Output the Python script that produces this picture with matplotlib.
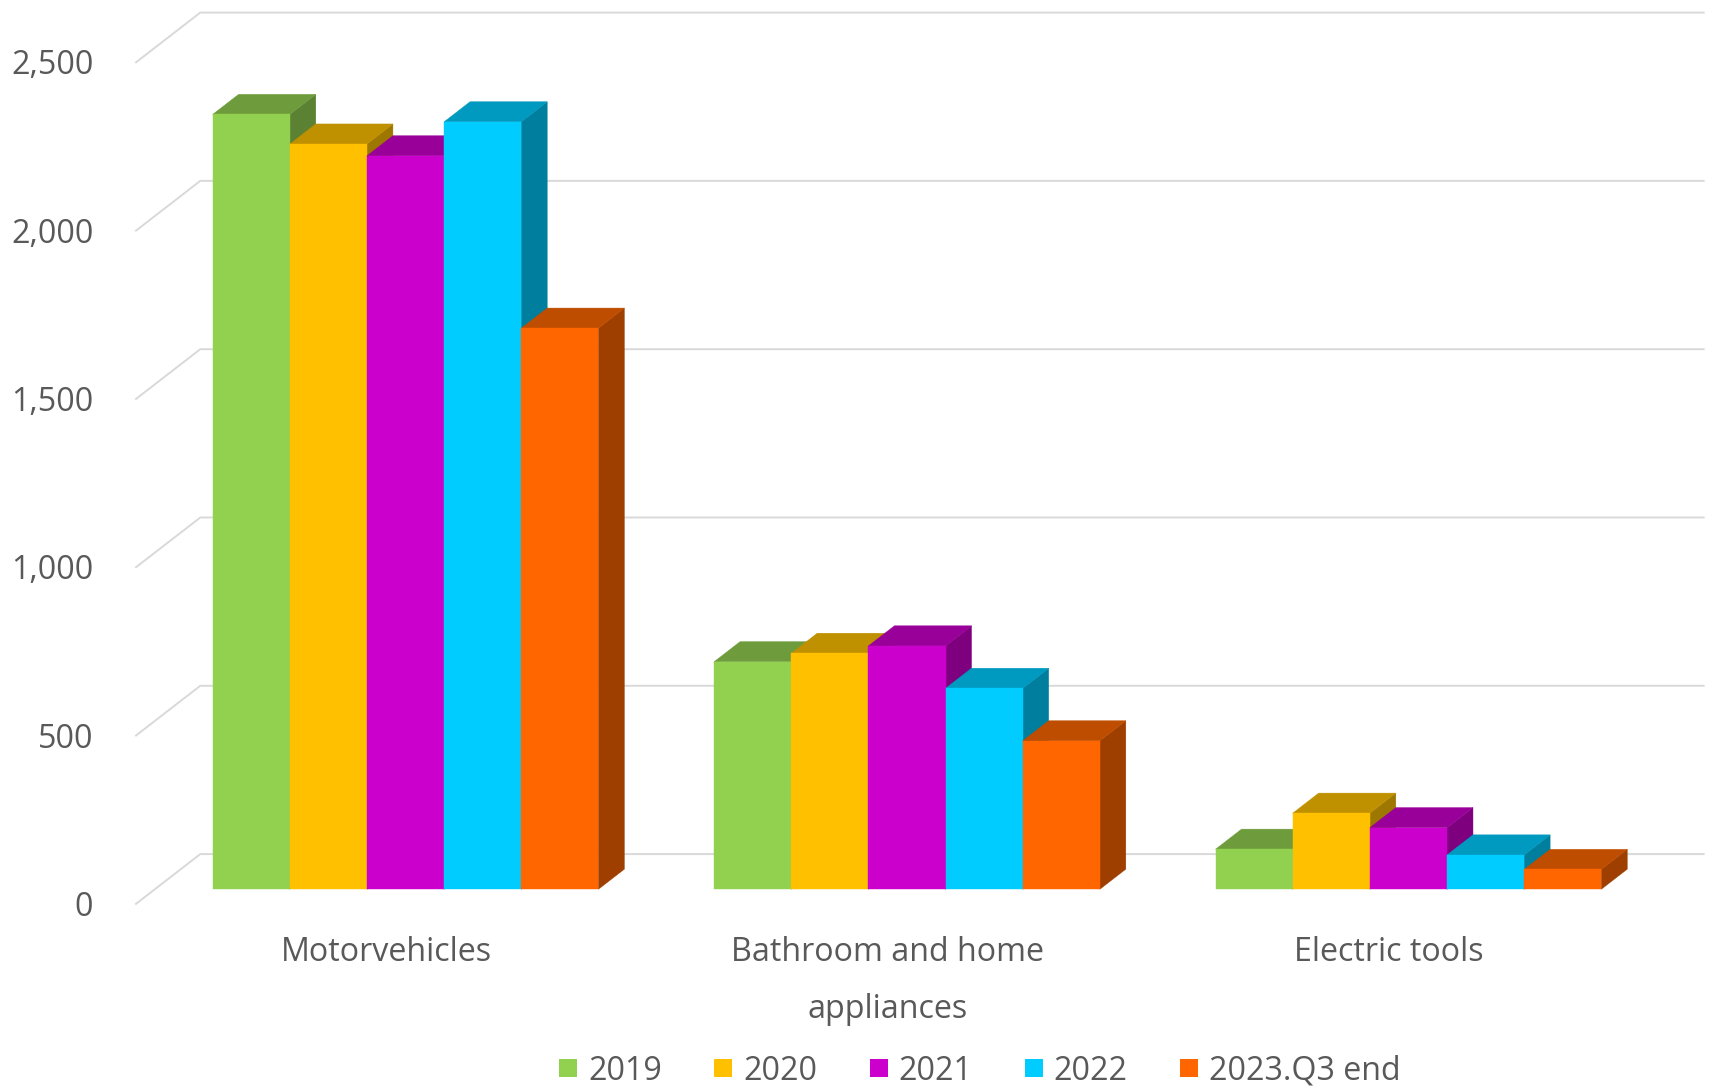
import matplotlib
matplotlib.use("Agg")
import matplotlib.pyplot as plt
from matplotlib.patches import Polygon
from matplotlib.lines import Line2D
from matplotlib.colors import to_rgb

# ---------------- data ----------------
categories = ["Motorvehicles", "Bathroom and home\nappliances", "Electric tools"]
series = ["2019", "2020", "2021", "2022", "2023.Q3 end"]
v2019 = [2302, 676, 119]
v2020 = [2214, 701, 226]
v2021 = [2179, 723, 183]
v2022 = [2280, 597, 102]
v2023q3 = [1667, 441, 59]
values = [v2019, v2020, v2021, v2022, v2023q3]
yticks = [0, 500, 1000, 1500, 2000, 2500]
ytick_labels = ["0", "500", "1,000", "1,500", "2,000", "2,500"]

colors = ["#92D050", "#FFC000", "#CC00CC", "#00CCFF", "#FF6600"]

# ---------------- style / layout ----------------
plt.rcParams["font.family"] = ["Open Sans", "DejaVu Sans"]
TEXT = "#595959"
GRID = "#D9D9D9"
FS = 23.2

W, H = 1709, 1088
PX_PER_CAT = 501.45
CAT0_PX = 405.5
ZERO_PY = 889.3
PX_PER_UNIT = 0.3366
DEPTH_PX = (65.0, 50.3)
FACE_D, BACK_D = 0.3, 0.7
BAR_W = 1 / 6.5


def shade(c, f):
    r, g, b = to_rgb(c)
    return (r * f, g * f, b * f)


fig = plt.figure(figsize=(W / 100, H / 100), dpi=100)
ax = fig.add_axes([0, 0, 1, 1])
ax.set_xlim(-CAT0_PX / PX_PER_CAT, (W - CAT0_PX) / PX_PER_CAT)
ax.set_ylim(-(H - ZERO_PY) / PX_PER_UNIT, ZERO_PY / PX_PER_UNIT)
ax.axis("off")

DXc = DEPTH_PX[0] / PX_PER_CAT
DYv = DEPTH_PX[1] / PX_PER_UNIT


def off(d):
    return ((d - FACE_D) * DXc, (d - FACE_D) * DYv)


n_cat = len(categories)
x_left, x_right = -0.5, n_cat - 0.5
fx, fy = off(0.0)
bx1, by1 = off(1.0)

# gridlines (back wall + slanted side segment)
for v, lab in zip(yticks, ytick_labels):
    ax.plot([x_left + fx, x_left + bx1, x_right + bx1],
            [v + fy, v + by1, v + by1], color=GRID, lw=1.4,
            solid_capstyle="butt", zorder=1)
    ax.annotate(lab, xy=(x_left + fx, v + fy), xytext=(-42 * 0.72, -3 * 0.72),
                textcoords="offset points", ha="right", va="center",
                color=TEXT, fontsize=FS)

# bars
bx, by = off(BACK_D)
z = 2.0
for i in range(n_cat):
    for j, vals in enumerate(values):
        h = vals[i]
        x0 = i - 2.5 * BAR_W + j * BAR_W
        x1 = x0 + BAR_W
        c = colors[j]
        side = [(x1, 0), (x1 + bx, by), (x1 + bx, h + by), (x1, h)]
        top = [(x0, h), (x1, h), (x1 + bx, h + by), (x0 + bx, h + by)]
        front = [(x0, 0), (x1, 0), (x1, h), (x0, h)]
        for poly, col in ((side, shade(c, 0.62)), (top, shade(c, 0.75)), (front, c)):
            ax.add_patch(Polygon(poly, closed=True, facecolor=col, edgecolor=col,
                                 lw=0.3, zorder=z))
            z += 0.001

# category labels
for i, cat in enumerate(categories):
    ax.annotate(cat, xy=(i + fx, fy), xytext=(0, -32 * 0.72),
                textcoords="offset points", ha="center", va="top",
                multialignment="center", linespacing=1.95,
                color=TEXT, fontsize=FS)

# legend
handles = [Line2D([], [], marker="s", ls="none", markersize=12.7,
                  markerfacecolor=c, markeredgecolor=c, markeredgewidth=0)
           for c in colors]
fig.legend(handles, series, loc="center", bbox_to_anchor=(980.0 / W, 17 / H),
           ncol=len(series), frameon=False, fontsize=FS, handlelength=0.55,
           handletextpad=0.35, columnspacing=1.62, borderpad=0,
           borderaxespad=0, labelcolor=TEXT)

fig.savefig("out.png", dpi=100)
